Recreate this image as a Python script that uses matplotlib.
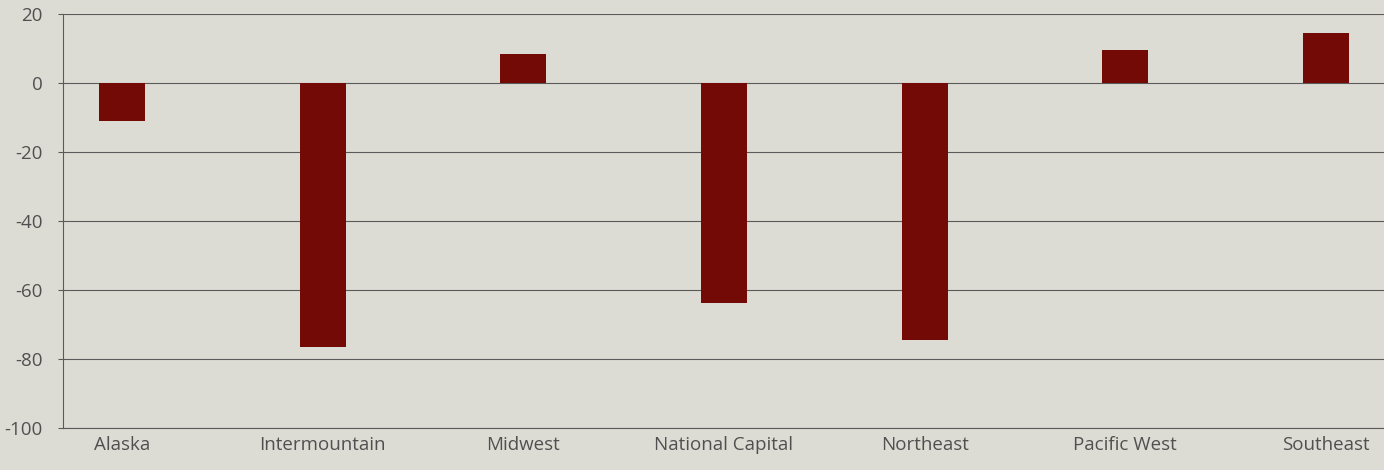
import matplotlib
matplotlib.use("Agg")
import matplotlib.pyplot as plt

regions = ["Alaska", "Intermountain", "Midwest", "National Capital", "Northeast", "Pacific West", "Southeast"]
values = [-11, -76.5, 8.5, -64, -74.5, 9.5, 14.5]
yticks = [20, 0, -20, -40, -60, -80, -100]

bg = "#dddcd4"
bar_color = "#740a06"
text_color = "#505050"
grid_color = "#5a5a5a"

plt.rcParams['font.family'] = ['Open Sans', 'DejaVu Sans']

fig = plt.figure(figsize=(13.84, 4.70), dpi=100, facecolor=bg)
ax = fig.add_axes([0.0455, 0.0904, 0.9545, 0.8796])
ax.set_facecolor(bg)

x = list(range(len(regions)))
ax.bar(x, values, width=0.23, color=bar_color, zorder=3)

ax.set_ylim(-100, 20)
ax.set_xlim(-0.295, 6.29)
ax.set_yticks(yticks)
ax.set_yticklabels([str(v) for v in yticks], fontsize=13.5, color=text_color)
ax.set_xticks(x)
ax.set_xticklabels(regions, fontsize=13.5, color=text_color)

ax.yaxis.grid(True, color=grid_color, linewidth=0.8, zorder=1)
ax.tick_params(axis='x', length=0, pad=6)
ax.tick_params(axis='y', length=3.6, width=0.8, color=grid_color, pad=11)
for s in ["top", "right"]:
    ax.spines[s].set_visible(False)
for s in ["left", "bottom"]:
    ax.spines[s].set_color(grid_color)
    ax.spines[s].set_linewidth(0.8)

fig.savefig("out.png", dpi=100, facecolor=bg)
